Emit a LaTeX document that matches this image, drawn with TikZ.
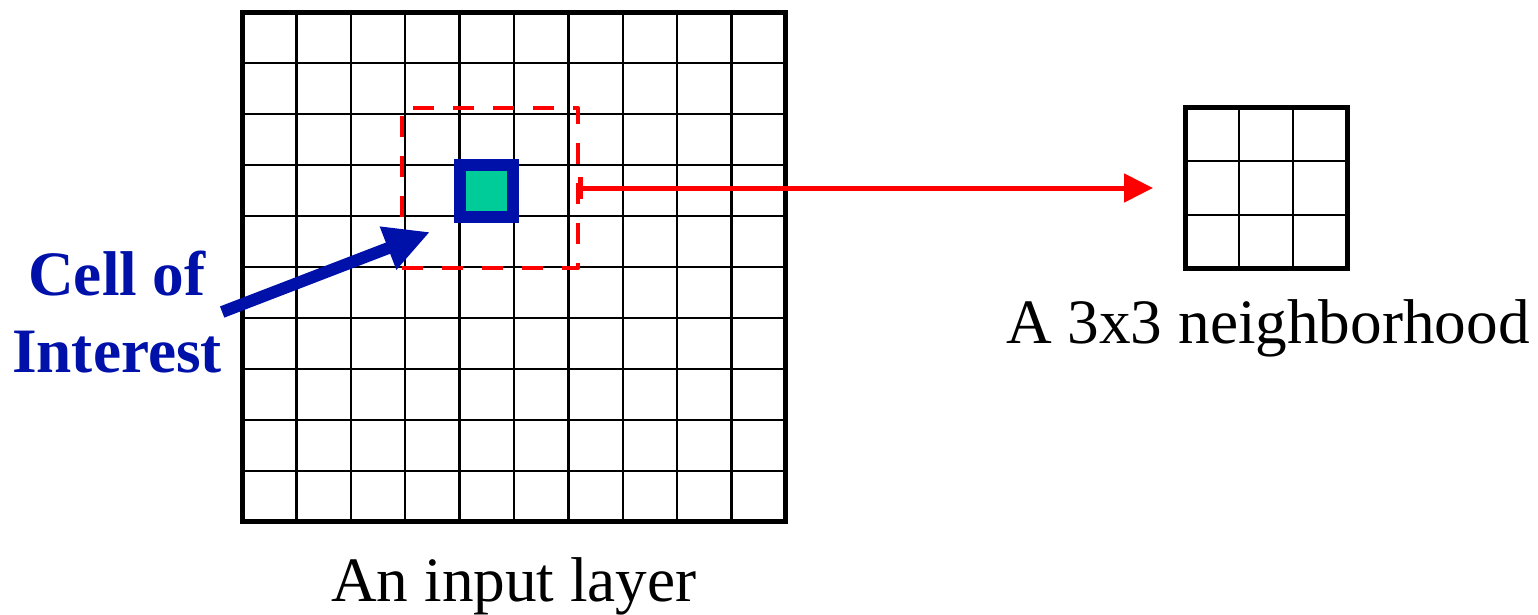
\documentclass[tikz,border=0pt]{standalone}
\usepackage{fontspec}
\setmainfont{Liberation Serif}
\usetikzlibrary{arrows.meta,positioning,calc}

\definecolor{cellblue}{RGB}{0,17,170}
\definecolor{cellgreen}{RGB}{0,204,153}

\begin{document}
\begin{tikzpicture}[
    x=0.02cm, y=-0.02cm,
    frame/.style={rectangle, draw, line width=0.1cm, inner sep=0pt, outer sep=0pt},
    gridline/.style={line width=0.05cm},
    window/.style={rectangle, draw=red, dashed, dash pattern=on 0.42cm off 0.38cm,
        line width=0.08cm, line join=round, inner sep=0pt, outer sep=0pt,
        minimum width=3.52cm, minimum height=3.2cm},
    cellbox/.style={rectangle, draw=cellblue, fill=cellgreen, line width=0.24cm,
        inner sep=0pt, outer sep=0pt, minimum width=1.07cm, minimum height=1.03cm},
    caption/.style={font=\fontsize{36}{43.6}\selectfont, inner sep=0pt},
    pointer/.style={draw=cellblue, line width=0.24cm, -{Triangle[length=0.9cm, width=0.86cm]}},
    link/.style={draw=red, line width=0.1cm,
        {Bar[width=0.44cm]}-{Triangle[length=0.58cm, width=0.56cm]}, shorten >=0.64cm}
]
    \useasboundingbox (0,0) rectangle (1538,615);

    % 10x10 input layer
    \node[frame, minimum width=10.88cm, minimum height=10.2cm] (layer) at (514,267) {};
    \foreach \i in {1,...,9} {
        \draw[gridline] ($(layer.north west)!\i/10!(layer.north east)$) -- ($(layer.south west)!\i/10!(layer.south east)$);
        \draw[gridline] ($(layer.north west)!\i/10!(layer.south west)$) -- ($(layer.north east)!\i/10!(layer.south east)$);
    }
    \node[caption, anchor=base] (layerlabel) at (514,601) {An input layer};

    % window and centre cell
    \node[window] (win) at (490,188) {};
    \node[cellbox] (cell) at (486.5,191) {};

    % 3x3 neighborhood
    \node[frame, minimum width=3.24cm, minimum height=3.22cm] (nbhd) at (1266,188) {};
    \foreach \i in {1,2} {
        \draw[gridline] ($(nbhd.north west)!\i/3!(nbhd.north east)$) -- ($(nbhd.south west)!\i/3!(nbhd.south east)$);
        \draw[gridline] ($(nbhd.north west)!\i/3!(nbhd.south west)$) -- ($(nbhd.north east)!\i/3!(nbhd.south east)$);
    }
    \node[caption, anchor=base] (nbhdlabel) at (1268,343) {A 3x3 neighborhood};

    % cell of interest label
    \node[caption, align=center, text=cellblue, font=\fontsize{36}{43.6}\selectfont\bfseries] (coi) at (117,312) {Cell of\\Interest};
    \coordinate (target) at (430,232);

    \draw[pointer] (coi.east) -- (target);
    \draw[link] (win.east) -- (nbhd.west);
\end{tikzpicture}
\end{document}
